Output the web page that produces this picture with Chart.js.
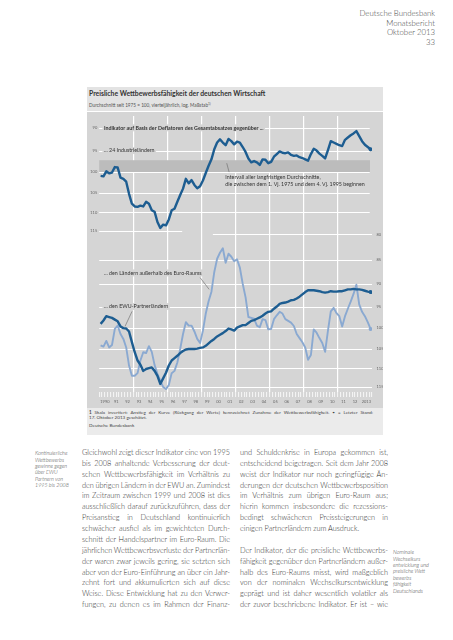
<!DOCTYPE html>
<html lang="de">
<head>
<meta charset="utf-8">
<title>Preisliche Wettbewerbsfähigkeit der deutschen Wirtschaft</title>
<script src="https://cdn.jsdelivr.net/npm/chart.js@4.4.1/dist/chart.umd.min.js"></script>
<style>
  html, body { margin: 0; padding: 0; background: #fff; }
  body { width: 453px; height: 640px; position: relative; overflow: hidden;
         font-family: Lato, 'Open Sans', sans-serif; color: #333; }
  .abs { position: absolute; }
  .header { right: 18px; top: 9.2px; text-align: right; font-size: 7.8px; line-height: 9.6px;
            font-weight: 300; color: #444; }
  .titleband { left: 87px; top: 87px; width: 296px; height: 24px; background: #e3e3e3; }
  .title { left: 89px; top: 89.3px; font-size: 6.8px; line-height: 8px; font-weight: bold; color: #333; }
  .subtitle { left: 89px; top: 101.3px; font-size: 4.7px; line-height: 6px; color: #555; }
  .subtitle sup { font-size: 3.2px; vertical-align: 1.5px; }
  #chartWrap { left: 87px; top: 112px; width: 296px; height: 296px; background: #d5d5d5; }
  .footband { left: 87px; top: 408px; width: 296px; height: 27px; background: #ebebeb; }
  .foot { left: 89px; width: 284px; font-size: 4.6px; line-height: 5.5px; color: #444; }
  .col { top: 447.9px; width: 148px; font-size: 7.3px; line-height: 10.88px; font-weight: 300; color: #2e2e2e; }
  .col div { white-space: nowrap; height: 10.88px; }
  .note { font-size: 5.4px; line-height: 6.4px; font-style: italic; font-weight: 300; color: #444; }
</style>
</head>
<body>
<div class="abs header">Deutsche Bundesbank<br>Monatsbericht<br>Oktober 2013<br>33</div>

<div class="abs titleband"></div>
<div class="abs title">Preisliche Wettbewerbsfähigkeit der deutschen Wirtschaft</div>
<div class="abs subtitle">Durchschnitt seit 1975 = 100, vierteljährlich, log. Maßstab<sup>1)</sup></div>
<div class="abs" id="chartWrap"><canvas id="competitivenessChart" width="296" height="296"></canvas></div>
<div class="abs footband"></div>
<div class="abs foot" style="top:409.5px;">
  <div class="j"><span><b>1</b> Skala invertiert: Anstieg der Kurve (Rückgang der Werte) kennzeichnet Zunahme der Wettbewerbsfähigkeit. • = Letzter Stand:</span></div>
  <div>17. Oktober 2013 geschätzt.</div>
</div>
<div class="abs foot" style="top:423px;">Deutsche Bundesbank</div>

<div class="abs note" style="left:35px; top:450.1px;">Kontinuierliche<br>Wettbewerbs-<br>gewinne gegen-<br>über EWU-<br>Partnern von<br>1995 bis 2008</div>
<div class="abs note" style="left:393px; top:549.1px;">Nominale<br>Wechselkurs-<br>entwicklung und<br>preisliche Wett-<br>bewerbs-<br>fähigkeit<br>Deutschlands</div>
<div class="abs col" id="colLeft" style="left:82px;"></div>
<div class="abs col" id="colRight" style="left:240px;"></div>

<script>
// Chart data (quarterly, 1990 Q1 - 2013 Q4; last value = estimate of 17 Oct 2013)
const startYear = 1990;
const yearLabels = ['1990', '91', '92', '93', '94', '95', '96', '97', '98', '99', '00', '01',
  '02', '03', '04', '05', '06', '07', '08', '09', '10', '11', '12', '2013'];
const gridYears = [1993, 1996, 1999, 2002, 2005, 2008, 2011];
const upperTicks = [90, 95, 100, 105, 110, 115];
const lowerTicks = [80, 85, 90, 95, 100, 105, 110, 115];
const bandRange = [97.2, 100];

// ... gegenüber 24 Industrieländern
const industrialCountries = [
  100.9, 101.0, 99.8, 100.3,   100.1, 98.8, 98.9, 101.3,   101.6, 102.3, 105.3, 107.8,
  108.5, 108.6, 108.3, 108.5,  107.3, 107.8, 109.5, 109.9,  112.6, 114.2, 113.3, 113.5,
  111.9, 109.5, 109.1, 107.3,  105.6, 104.0, 101.6, 102.7,  101.9, 103.1, 103.9, 103.4,
  102.0, 100.2, 98.5, 97.0,    94.7, 93.2, 92.5, 93.2,      93.8, 92.4, 92.9, 93.6,
  93.0, 93.2, 94.2, 95.3,      96.8, 97.7, 97.4, 97.7,      98.3, 97.0, 97.1, 97.9,
  97.6, 96.4, 95.8, 95.2,      95.5, 95.6, 95.4, 96.0,      96.2, 96.1, 96.5, 96.7,
  97.0, 97.3, 95.8, 94.6,      95.0, 95.7, 96.2, 96.8,      94.9, 92.9, 93.2, 93.5,
  93.8, 94.0, 92.6, 92.1,      91.6, 91.2, 90.7, 91.8,      92.9, 93.7, 94.2, 94.7
];
// ... den EWU-Partnerländern
const emuPartners = [
  99.0, 98.2, 97.2, 97.4,      97.6, 98.0, 98.4, 99.6,      100.0, 100.1, 100.8, 103.4,
  105.9, 108.0, 109.1, 110.7,  110.2, 110.0, 109.8, 110.7,  112.0, 114.2, 112.7, 111.2,
  109.3, 108.0, 107.4, 106.8,  106.1, 105.6, 105.2, 105.1,  105.1, 105.1, 105.0, 104.8,
  104.7, 104.3, 103.7, 103.1,  102.6, 102.0, 101.6, 101.2,  100.7, 100.1, 100.3, 100.6,
  99.9, 99.6, 99.3, 99.3,      98.8, 98.3, 98.1, 97.8,      97.5, 97.1, 96.6, 96.2,
  96.1, 95.5, 95.0, 94.4,      94.2, 94.1, 93.9, 93.6,      93.5, 93.2, 92.8, 92.3,
  91.8, 91.4, 91.4, 91.4,      91.5, 91.6, 91.8, 91.9,      91.8, 91.6, 91.7, 91.7,
  91.6, 91.6, 91.4, 91.2,      91.2, 91.1, 91.2, 91.2,      91.3, 91.5, 91.7, 91.8
];
// ... den Ländern außerhalb des Euro-Raums
const nonEuroCountries = [
  104.2, 104.5, 103.1, 104.7,  104.1, 100.2, 99.4, 101.4,   102.6, 104.7, 109.3, 112.0,
  112.0, 111.3, 108.0, 105.9,  106.1, 104.4, 105.8, 109.2,  111.5, 113.3, 115.0, 115.6,
  114.5, 111.3, 110.7, 108.5,  105.1, 101.4, 98.6, 99.4,    99.4, 100.8, 102.6, 103.6,
  100.6, 96.6, 93.8, 91.7,     87.5, 84.8, 83.6, 82.7,      85.6, 83.8, 84.4, 85.3,
  84.9, 86.6, 90.0, 92.9,      97.4, 97.6, 97.8, 99.4,      99.8, 97.9, 98.1, 100.3,
  100.2, 97.9, 97.0, 96.2,     96.6, 97.9, 98.3, 98.7,      99.5, 101.4, 102.4, 103.4,
  104.7, 107.8, 106.6, 100.3,  101.1, 102.4, 103.6, 105.8,  100.6, 96.1, 95.3, 96.5,
  97.2, 99.6, 97.2, 95.5,      93.9, 92.2, 90.2, 94.5,      96.2, 97.2, 98.6, 100.2
];

const darkBlue = '#1d5d91';
const lightBlue = '#8aa9d1';
const plotGray = '#d5d5d5';
const labelFont = 'Lato, "Open Sans", sans-serif';

function toPoints(values) {
  return values.map((v, i) => ({ x: startYear + (i + 0.5) / 4, y: v }));
}
const quarterTicks = [];
for (let q = 0; q <= yearLabels.length * 4; q++) quarterTicks.push(startYear + q / 4);

function lastPointOnly(ctx) {
  return ctx.dataIndex === ctx.dataset.data.length - 1 ? 2 : 0;
}

// grid lines, shaded band, in-chart labels
const panelDecor = {
  id: 'panelDecor',
  beforeDatasetsDraw(chart) {
    const { ctx, chartArea: a, scales } = chart;
    const x = scales.x, yU = scales.yU, yL = scales.yL;
    ctx.save();

    const b0 = yU.getPixelForValue(bandRange[0]);
    const b1 = yU.getPixelForValue(bandRange[1]);
    ctx.fillStyle = '#bcbcbc';
    ctx.fillRect(a.left, b0, a.right - 2 - a.left, b1 - b0);

    ctx.strokeStyle = '#fff';
    ctx.lineWidth = 1;
    function hLine(scale, v, from, to) {
      const y = Math.round(scale.getPixelForValue(v)) + 0.5;
      ctx.beginPath();
      ctx.moveTo(x.getPixelForValue(from), y);
      ctx.lineTo(x.getPixelForValue(to), y);
      ctx.stroke();
    }
    upperTicks.forEach(v => hLine(yU, v, 1990, v === 115 ? 1997.3 : 2013.8));
    lowerTicks.forEach(v => hLine(yL, v, v === 80 ? 2000 : 1990, 2014));

    function label(text, xv, scale, yv, bold) {
      ctx.font = (bold ? 'bold ' : '') + '5.3px ' + labelFont;
      const px = x.getPixelForValue(xv), py = scale.getPixelForValue(yv);
      const w = ctx.measureText(text).width;
      ctx.fillStyle = plotGray;
      ctx.fillRect(px - 1.5, py - 3.5, w + 3, 7);
      ctx.fillStyle = '#333';
      ctx.textBaseline = 'middle';
      ctx.fillText(text, px, py);
    }
    function leader(x0, s0, v0, x1, s1, v1) {
      ctx.strokeStyle = '#666';
      ctx.lineWidth = 0.6;
      ctx.beginPath();
      ctx.moveTo(x.getPixelForValue(x0), s0.getPixelForValue(v0));
      ctx.lineTo(x.getPixelForValue(x1), s1.getPixelForValue(v1));
      ctx.stroke();
    }
    label('Indikator auf Basis der Deflatoren des Gesamtabsatzes gegenüber ...', 1990.42, yU, 90, true);
    label('... 24 Industrieländern', 1990.42, yU, 95, false);
    label('... den Ländern außerhalb des Euro-Raums', 1990.42, yL, 87.7, false);
    label('... den EWU-Partnerländern', 1990.42, yL, 95, false);

    ctx.font = '5.3px ' + labelFont;
    ctx.fillStyle = '#333';
    ctx.textBaseline = 'middle';
    const ix = x.getPixelForValue(2001.1);
    ctx.fillText('Intervall aller langfristigen Durchschnitte,', ix, yU.getPixelForValue(101.2));
    ctx.fillText('die zwischen dem 1. Vj. 1975 und dem 4. Vj. 1995 beginnen', ix, yU.getPixelForValue(102.85));

    leader(2001.22, yU, 97.9, 2001.43, yU, 100.0);
    leader(1998.88, yL, 88.7, 1999.67, yL, 91.2);
    leader(1992.89, yL, 96.1, 1992.27, yL, 99.6);
    ctx.restore();
  }
};

const axisFont = { family: labelFont, size: 4 };

new Chart(document.getElementById('competitivenessChart'), {
  type: 'line',
  data: {
    datasets: [
      {
        label: '... 24 Industrieländern',
        data: toPoints(industrialCountries),
        yAxisID: 'yU',
        borderColor: darkBlue,
        backgroundColor: darkBlue,
        borderWidth: 2.4,
        pointRadius: lastPointOnly,
        pointBorderWidth: 0,
        borderJoinStyle: 'round',
        tension: 0,
      },
      {
        label: '... den EWU-Partnerländern',
        data: toPoints(emuPartners),
        yAxisID: 'yL',
        borderColor: darkBlue,
        backgroundColor: darkBlue,
        borderWidth: 2.4,
        pointRadius: lastPointOnly,
        pointBorderWidth: 0,
        borderJoinStyle: 'round',
        tension: 0,
      },
      {
        label: '... den Ländern außerhalb des Euro-Raums',
        data: toPoints(nonEuroCountries),
        yAxisID: 'yL',
        borderColor: lightBlue,
        backgroundColor: lightBlue,
        borderWidth: 1.9,
        pointRadius: lastPointOnly,
        pointBorderWidth: 0,
        borderJoinStyle: 'round',
        tension: 0,
      },
    ],
  },
  options: {
    responsive: false,
    animation: false,
    layout: { padding: { left: 0, right: 0, top: 1, bottom: 0 } },
    plugins: { legend: { display: false }, tooltip: { enabled: false } },
    scales: {
      x: {
        type: 'linear',
        min: startYear,
        max: startYear + yearLabels.length,
        afterBuildTicks: (s) => { s.ticks = quarterTicks.map((v) => ({ value: v })); },
        afterFit: (s) => { s.height = 16; s.paddingLeft = 0; s.paddingRight = 0; },
        border: { display: false },
        grid: {
          color: (c) => (c.tick && gridYears.includes(c.tick.value) ? '#fff' : 'rgba(0,0,0,0)'),
          lineWidth: 1.2,
          drawTicks: true,
          tickLength: 5,
          tickColor: '#fff',
          tickWidth: 0.8,
        },
        ticks: {
          autoSkip: false,
          maxRotation: 0,
          minRotation: 0,
          padding: 2.5,
          color: '#666',
          font: axisFont,
          callback: (v) => (v % 1 === 0.5 ? yearLabels[Math.floor(v) - startYear] : ''),
        },
      },
      yU: {
        type: 'logarithmic',
        position: 'left',
        reverse: true,
        min: 87.5,
        max: 168.7,
        afterBuildTicks: (s) => { s.ticks = upperTicks.map((v) => ({ value: v })); },
        afterFit: (s) => { s.width = 12.2; s.paddingTop = 0; s.paddingBottom = 0; },
        border: { display: false },
        grid: { display: false, drawTicks: false },
        ticks: { padding: 2, color: '#666', font: axisFont, callback: (v) => String(v) },
      },
      yL: {
        type: 'logarithmic',
        position: 'right',
        reverse: true,
        min: 60.4,
        max: 116.4,
        afterBuildTicks: (s) => { s.ticks = lowerTicks.map((v) => ({ value: v })); },
        afterFit: (s) => { s.width = 11; s.paddingTop = 0; s.paddingBottom = 0; },
        border: { display: false },
        grid: { display: false, drawTicks: false },
        ticks: { padding: 4.5, color: '#666', font: axisFont, callback: (v) => String(v) },
      },
    },
  },
  plugins: [panelDecor],
});

// Body text, set line by line and justified
const leftLines = [
  'Gleichwohl zeigt dieser Indikator eine von 1995',
  'bis 2008 anhaltende Verbesserung der deut-',
  'schen Wettbewerbsfähigkeit im Verhältnis zu',
  'den übrigen Ländern in der EWU an. Zumindest',
  'im Zeitraum zwischen 1999 und 2008 ist dies',
  'ausschließlich darauf zurückzuführen, dass der',
  'Preisanstieg in Deutschland kontinuierlich',
  'schwächer ausfiel als im gewichteten Durch-',
  'schnitt der Handelspartner im Euro-Raum. Die',
  'jährlichen Wettbewerbsverluste der Partnerlän-',
  'der waren zwar jeweils gering, sie setzten sich',
  'aber von der Euro-Einführung an über ein Jahr-',
  'zehnt fort und akkumulierten sich auf diese',
  'Weise. Diese Entwicklung hat zu den Verwer-',
  'fungen, zu denen es im Rahmen der Finanz-',
];
const rightLines = [
  'und Schuldenkrise in Europa gekommen ist,',
  'entscheidend beigetragen. Seit dem Jahr 2008',
  'weist der Indikator nur noch geringfügige Än-',
  'derungen der deutschen Wettbewerbsposition',
  'im Verhältnis zum übrigen Euro-Raum aus;',
  'hierin kommen insbesondere die rezessions-',
  'bedingt schwächeren Preissteigerungen in',
  '*einigen Partnerländern zum Ausdruck.',
  '',
  'Der Indikator, der die preisliche Wettbewerbs-',
  'fähigkeit gegenüber den Partnerländern außer-',
  'halb des Euro-Raums misst, wird maßgeblich',
  'von der nominalen Wechselkursentwicklung',
  'geprägt und ist daher wesentlich volatiler als',
  'der zuvor beschriebene Indikator. Er ist – wie',
];
function fillColumn(id, lines) {
  const col = document.getElementById(id);
  lines.forEach(function (line) {
    const div = document.createElement('div');
    const span = document.createElement('span');
    if (line.charAt(0) === '*') {
      span.textContent = line.slice(1);
    } else {
      span.textContent = line;
      if (line) div.className = 'j';
    }
    div.appendChild(span);
    col.appendChild(div);
  });
}
fillColumn('colLeft', leftLines);
fillColumn('colRight', rightLines);

document.querySelectorAll('.j').forEach(function (el) {
  const span = el.firstElementChild;
  el.style.whiteSpace = 'nowrap';
  const natural = span.getBoundingClientRect().width;
  const spaces = (span.textContent.match(/ /g) || []).length;
  if (spaces) span.style.wordSpacing = ((el.clientWidth - natural) / spaces) + 'px';
});
</script>
</body>
</html>
